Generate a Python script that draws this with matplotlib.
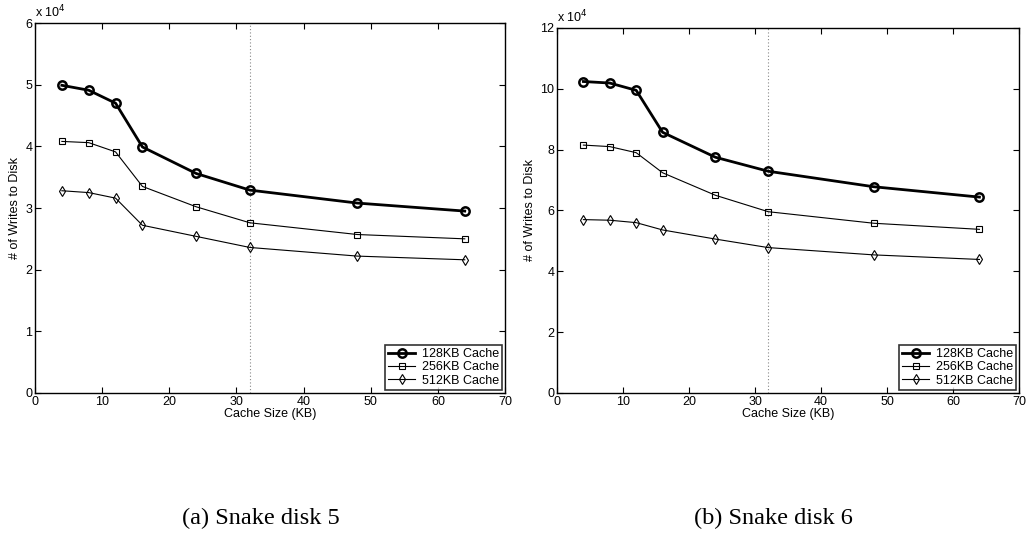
import matplotlib
matplotlib.use("Agg")
import matplotlib.pyplot as plt
from matplotlib.ticker import FuncFormatter

plt.rcParams['font.family'] = ['Liberation Sans', 'DejaVu Sans']

cache_sizes = [4, 8, 12, 16, 24, 32, 48, 64]
series_labels = ["128KB Cache", "256KB Cache", "512KB Cache"]

disk5_128 = [49900, 49100, 47000, 39900, 35600, 32900, 30800, 29500]
disk5_256 = [40800, 40600, 39100, 33500, 30200, 27600, 25700, 25000]
disk5_512 = [32800, 32500, 31600, 27200, 25400, 23600, 22200, 21600]

disk6_128 = [102400, 101900, 99500, 85700, 77500, 72900, 67800, 64400]
disk6_256 = [81500, 81000, 79000, 72400, 65000, 59600, 55800, 53800]
disk6_512 = [57000, 56800, 56000, 53600, 50600, 47800, 45400, 43900]

captions = ["(a) Snake disk 5", "(b) Snake disk 6"]
ylims = [60000, 120000]
yticks = [[0, 10000, 20000, 30000, 40000, 50000, 60000],
          [0, 20000, 40000, 60000, 80000, 100000, 120000]]
xticks = [0, 10, 20, 30, 40, 50, 60, 70]
marker_line = 32

fig = plt.figure(figsize=(10.29, 5.33), dpi=100)
positions = [[0.034, 0.2627, 0.4568, 0.6941],
             [0.5413, 0.2627, 0.4490, 0.6848]]
caption_x = [0.2536, 0.7512]
data = [(disk5_128, disk5_256, disk5_512), (disk6_128, disk6_256, disk6_512)]

for i in range(2):
    ax = fig.add_axes(positions[i])
    s128, s256, s512 = data[i]
    ax.axvline(marker_line, color='#888888', linestyle=(0, (1, 2)), linewidth=0.8)
    ax.plot(cache_sizes, s128, color='black', linewidth=2.0, marker='o',
            markersize=6, markerfacecolor='none', markeredgewidth=1.8,
            label=series_labels[0])
    ax.plot(cache_sizes, s256, color='black', linewidth=0.8, marker='s',
            markersize=4, markerfacecolor='none', markeredgewidth=0.8,
            label=series_labels[1])
    ax.plot(cache_sizes, s512, color='black', linewidth=0.8, marker='d',
            markersize=5.5, markerfacecolor='none', markeredgewidth=0.8,
            label=series_labels[2])
    ax.set_xlim(0, 70)
    ax.set_ylim(0, ylims[i])
    ax.set_xticks(xticks)
    ax.set_yticks(yticks[i])
    ax.yaxis.set_major_formatter(FuncFormatter(lambda v, p: f"{v/1e4:g}"))
    ax.tick_params(direction='in', top=True, right=True, labelsize=9,
                   length=4, width=0.8, pad=2)
    for sp in ax.spines.values():
        sp.set_linewidth(1.0)
    ax.set_xlabel("Cache Size (KB)", fontsize=9, labelpad=0)
    ax.set_ylabel("# of Writes to Disk", fontsize=9, labelpad=3)
    ax.text(0.0, 1.008, r"x 10$^4$", transform=ax.transAxes, fontsize=9,
            ha='left', va='bottom')
    leg = ax.legend(loc='lower right', fontsize=9, frameon=True, fancybox=False,
                    borderpad=0.25, labelspacing=0.1, handlelength=2.2,
                    handletextpad=0.5, borderaxespad=0.25)
    leg.get_frame().set_edgecolor('black')
    leg.get_frame().set_linewidth(1.2)
    fig.text(caption_x[i], 0.028, captions[i], fontsize=17.5,
             family=['Liberation Serif', 'DejaVu Serif'], ha='center', va='center')

fig.savefig("out.png", dpi=100)
